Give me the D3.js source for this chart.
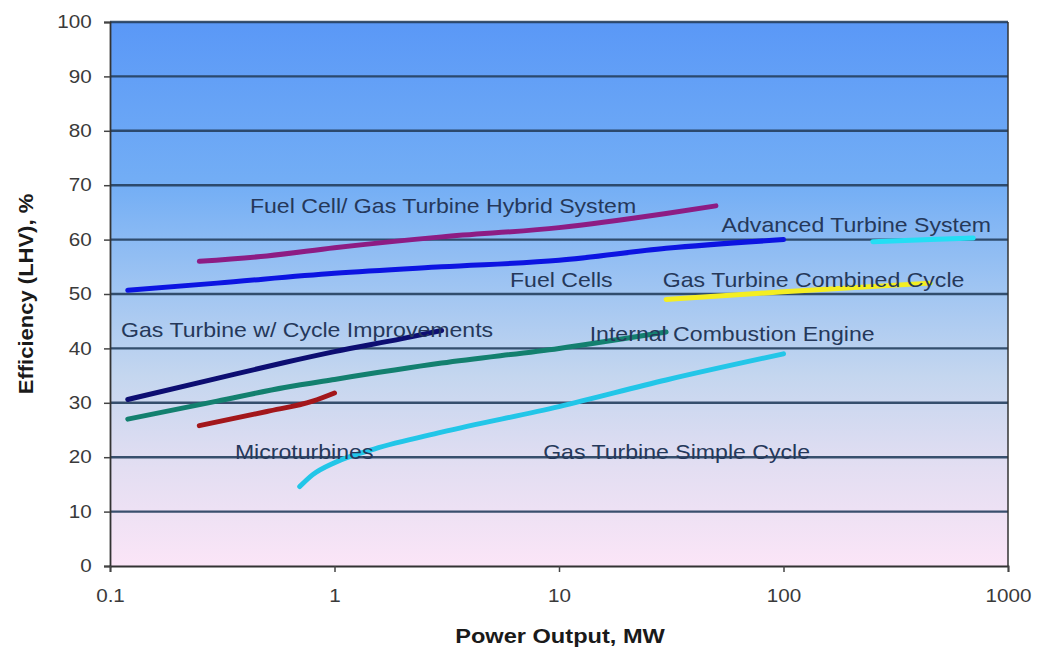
<!DOCTYPE html>
<html>
<head>
<meta charset="utf-8">
<script src="https://cdn.jsdelivr.net/npm/d3@7"></script>
<style>
  body { margin: 0; background: #fff; }
  svg { display: block; font-family: "Liberation Sans", Arial, sans-serif; }
</style>
</head>
<body>
<div id="chart"></div>
<script>
// values: [power output MW, efficiency %]
const hybrid = [[0.25, 56], [0.5, 57], [1, 58.5], [3, 60.5], [10, 62.2], [30, 64.8], [50, 66.2]];
const fuelCells = [[0.12, 50.7], [0.3, 52], [1, 53.8], [3, 55], [10, 56.2], [30, 58.4], [100, 60]];
const advancedTurbine = [[250, 59.6], [450, 60], [700, 60.3]];
const combinedCycle = [[30, 49], [100, 50.4], [450, 52]];
const cycleImprovements = [[0.12, 30.6], [0.3, 34.5], [0.6, 37.4], [1, 39.4], [2, 41.8], [3, 43.3]];
const internalCombustion = [[0.12, 27], [0.3, 30.3], [0.6, 32.8], [1, 34.3], [3, 37.3], [10, 40], [30, 43]];
const microturbines = [[0.25, 25.8], [0.5, 28.4], [0.8, 30.3], [1, 31.8]];
const simpleCycle = [[0.7, 14.6], [0.8, 16.8], [1, 19], [1.5, 21.5], [3, 24.6], [10, 29.3], [30, 34.2], [100, 39]];

const seriesNames = ["Fuel Cell/ Gas Turbine Hybrid System", "Fuel Cells", "Advanced Turbine System",
  "Gas Turbine Combined Cycle", "Gas Turbine w/ Cycle Improvements", "Internal Combustion Engine",
  "Microturbines", "Gas Turbine Simple Cycle"];
const seriesValues = [hybrid, fuelCells, advancedTurbine, combinedCycle, cycleImprovements,
  internalCombustion, microturbines, simpleCycle];
const seriesColors = ["#8d1c84", "#0c14e2", "#24def4", "#f4ee22", "#0d0e72", "#13806f", "#a3171b", "#22c6e8"];

// label anchors (left end, vertical middle) in data units, same order as seriesNames
const labelPower = [0.42, 6.05, 53, 29, 0.112, 13.7, 0.36, 8.5];
const labelEff = [66.2, 52.6, 62.7, 52.6, 43.4, 42.6, 21, 21];

const xTicks = [0.1, 1, 10, 100, 1000];
const yTicks = [0, 10, 20, 30, 40, 50, 60, 70, 80, 90, 100];

const width = 1042;
const height = 657;
const margin = {top: 22, right: 34, bottom: 91, left: 110};
const stretch = 1.18;
const labelStretch = 1.155;

const svg = d3.select("#chart")
  .append("svg")
  .attr("width", width)
  .attr("height", height);

const x = d3.scaleLog().domain([0.1, 1000]).range([margin.left, width - margin.right]);
const y = d3.scaleLinear().domain([0, 100]).range([height - margin.bottom, margin.top]);

// background gradient
const grad = svg.append("defs").append("linearGradient")
  .attr("id", "bg")
  .attr("x1", 0).attr("y1", 0).attr("x2", 0).attr("y2", 1);
[["0%", "#5a98f7"], ["30%", "#73aef5"], ["50%", "#a2c6f2"], ["65%", "#c4d6ef"], ["82%", "#e3def2"], ["100%", "#fbe5f7"]]
  .forEach(s => grad.append("stop").attr("offset", s[0]).attr("stop-color", s[1]));

svg.append("rect")
  .attr("x", x.range()[0])
  .attr("y", y(100))
  .attr("width", x.range()[1] - x.range()[0])
  .attr("height", y(0) - y(100))
  .attr("fill", "url(#bg)");

// gridlines
svg.append("g")
  .selectAll("line")
  .data(yTicks.filter(d => d > 0))
  .join("line")
  .attr("x1", x.range()[0])
  .attr("x2", x.range()[1])
  .attr("y1", d => y(d))
  .attr("y2", d => y(d))
  .attr("stroke", "#253f5e")
  .attr("stroke-opacity", 0.9)
  .attr("stroke-width", 2.4);

// right border
svg.append("line")
  .attr("x1", x.range()[1]).attr("x2", x.range()[1])
  .attr("y1", y(100)).attr("y2", y(0))
  .attr("stroke", "#333").attr("stroke-width", 1.5);

// axes
const yAxis = svg.append("g")
  .attr("transform", `translate(${margin.left},0)`)
  .call(d3.axisLeft(y).tickValues(yTicks).tickSize(6).tickPadding(10).tickFormat(d3.format("d")));

const xAxis = svg.append("g")
  .attr("transform", `translate(0,${height - margin.bottom})`)
  .call(d3.axisBottom(x).tickValues(xTicks).tickSize(6).tickPadding(18).tickFormat(d => String(d)));

[yAxis, xAxis].forEach(a => {
  a.select(".domain").attr("stroke", "#333").attr("stroke-width", 1.8);
  a.selectAll(".tick line").attr("stroke", "#444").attr("stroke-width", 1.5);
  a.selectAll(".tick text")
    .attr("font-size", 17.5)
    .attr("font-family", "Liberation Sans, Arial, sans-serif")
    .attr("fill", "#3a3a3a")
    .attr("transform", `scale(${stretch},1)`);
});
yAxis.selectAll(".tick text").attr("x", -15.5);

// series lines
const line = d3.line()
  .x(d => x(d[0]))
  .y(d => y(d[1]))
  .curve(d3.curveMonotoneX);

svg.append("g")
  .selectAll("path")
  .data(seriesValues)
  .join("path")
  .attr("d", line)
  .attr("fill", "none")
  .attr("stroke", (d, i) => seriesColors[i])
  .attr("stroke-width", 5)
  .attr("stroke-linecap", "round")
  .attr("stroke-linejoin", "round");

// series labels
svg.append("g")
  .selectAll("text")
  .data(seriesNames)
  .join("text")
  .attr("transform", (d, i) => `translate(${x(labelPower[i])},${y(labelEff[i])}) scale(${labelStretch},1)`)
  .attr("dy", "0.35em")
  .attr("font-size", 20)
  .attr("fill", "#25385a")
  .text(d => d);

// axis titles
svg.append("text")
  .attr("transform", `translate(${(x.range()[0] + x.range()[1]) / 2 + 1},${height - 14}) scale(${stretch},1)`)
  .attr("text-anchor", "middle")
  .attr("font-size", 20)
  .attr("font-weight", "bold")
  .attr("fill", "#1a1a1a")
  .text("Power Output, MW");

svg.append("text")
  .attr("transform", `translate(33,${y(50)}) rotate(-90) scale(1.1,1)`)
  .attr("text-anchor", "middle")
  .attr("font-size", 20)
  .attr("font-weight", "bold")
  .attr("fill", "#1a1a1a")
  .text("Efficiency (LHV), %");
</script>
</body>
</html>
